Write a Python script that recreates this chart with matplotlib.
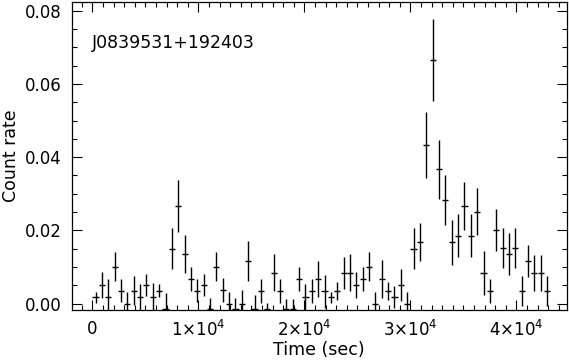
import matplotlib
matplotlib.use("Agg")
import matplotlib.pyplot as plt
from matplotlib.ticker import MultipleLocator, FixedLocator, FixedFormatter

# -------- data --------
source_name = "J0839531+192403"

time_sec = [
    300, 900, 1500, 2100, 2700, 3300, 3900, 4500, 5100, 5700,
    6300, 6900, 7500, 8100, 8700, 9300, 9900, 10500, 11100, 11700,
    12300, 12900, 13500, 14100, 14700, 15300, 15900, 16500, 17100, 17700,
    18300, 18900, 19500, 20100, 20700, 21300, 21900, 22500, 23100, 23700,
    24300, 24900, 25500, 26100, 26700, 27300, 27900, 28500, 29100, 29700,
    30300, 30900, 31500, 32100, 32700, 33300, 33900, 34500, 35100, 35700,
    36300, 36900, 37500, 38100, 38700, 39300, 39900, 40500, 41100, 41700,
    42300, 42900,
]

count_rate = [
    0.0017, 0.0051, 0.0017, 0.0101, 0.0035, 0.0000, 0.0035, 0.0017, 0.0051, 0.0017,
    0.0035, -0.0015, 0.0150, 0.0267, 0.0135, 0.0067, 0.0035, 0.0051, -0.0015, 0.0101,
    0.0037, 0.0000, -0.0015, 0.0000, 0.0116, -0.0015, 0.0034, -0.0015, 0.0084, 0.0034,
    -0.0015, -0.0015, 0.0067, 0.0017, 0.0034, 0.0067, 0.0034, 0.0017, 0.0034, 0.0084,
    0.0084, 0.0051, 0.0067, 0.0101, 0.0000, 0.0067, 0.0034, 0.0017, 0.0051, 0.0000,
    0.0150, 0.0167, 0.0434, 0.0666, 0.0367, 0.0283, 0.0167, 0.0185, 0.0267, 0.0185,
    0.0251, 0.0084, 0.0034, 0.0201, 0.0151, 0.0135, 0.0151, 0.0034, 0.0117, 0.0084,
    0.0084, 0.0034,
]

rate_err = [
    0.0015, 0.0036, 0.0049, 0.0040, 0.0032, 0.0032, 0.0040, 0.0035, 0.0030, 0.0038,
    0.0018, 0.0043, 0.0057, 0.0071, 0.0052, 0.0032, 0.0032, 0.0030, 0.0030, 0.0040,
    0.0033, 0.0032, 0.0029, 0.0038, 0.0055, 0.0037, 0.0033, 0.0016, 0.0050, 0.0033,
    0.0026, 0.0026, 0.0032, 0.0036, 0.0033, 0.0048, 0.0045, 0.0015, 0.0024, 0.0043,
    0.0050, 0.0036, 0.0032, 0.0040, 0.0032, 0.0052, 0.0024, 0.0030, 0.0044, 0.0032,
    0.0056, 0.0052, 0.0090, 0.0113, 0.0081, 0.0068, 0.0062, 0.0059, 0.0066, 0.0059,
    0.0065, 0.0060, 0.0033, 0.0058, 0.0055, 0.0058, 0.0055, 0.0041, 0.0044, 0.0049,
    0.0049, 0.0041,
]

bin_half = 290  # half width of the time bins (drawn as x error)

x_major = [0, 10000, 20000, 30000, 40000]
x_labels = ["0", r"$\mathregular{1{\times}10^{4}}$", r"$\mathregular{2{\times}10^{4}}$",
            r"$\mathregular{3{\times}10^{4}}$", r"$\mathregular{4{\times}10^{4}}$"]
y_major = [0.00, 0.02, 0.04, 0.06, 0.08]
y_labels = ["0.00", "0.02", "0.04", "0.06", "0.08"]

# -------- plot --------
plt.rcParams["font.family"] = ["DejaVu Sans"]
plt.rcParams["mathtext.fontset"] = "dejavusans"

fig = plt.figure(figsize=(5.69, 3.62), dpi=100)
ax = fig.add_axes([0.126, 0.1436, 0.870, 0.8495])

ax.errorbar(time_sec, count_rate, xerr=bin_half, yerr=rate_err, fmt="none",
            ecolor="black", elinewidth=1.0, capsize=0)

ax.set_xlim(-1950, 44750)
ax.set_ylim(-0.00178, 0.0823)

ax.xaxis.set_major_locator(FixedLocator(x_major))
ax.xaxis.set_major_formatter(FixedFormatter(x_labels))
ax.xaxis.set_minor_locator(MultipleLocator(1000))
ax.yaxis.set_major_locator(FixedLocator(y_major))
ax.yaxis.set_major_formatter(FixedFormatter(y_labels))
ax.yaxis.set_minor_locator(MultipleLocator(0.005))

ax.tick_params(which="both", direction="in", top=True, right=True, width=0.8,
               labelsize=12, color="black")
ax.tick_params(which="major", length=7)
ax.tick_params(which="minor", length=3.5)
ax.tick_params(axis="x", pad=7)
ax.tick_params(axis="y", pad=7)
for s in ax.spines.values():
    s.set_linewidth(0.9)

ax.set_xlabel("Time (sec)", fontsize=12.5, labelpad=1)
# y label placed by hand so it sits near the left edge like the original
fig.text(11 / 569, 0.57, "Count rate", fontsize=12.5, rotation=90,
         ha="center", va="center")

ax.text(0, 0.0711, source_name, fontsize=12.5, ha="left", va="center")

fig.savefig("out.png", dpi=100)
